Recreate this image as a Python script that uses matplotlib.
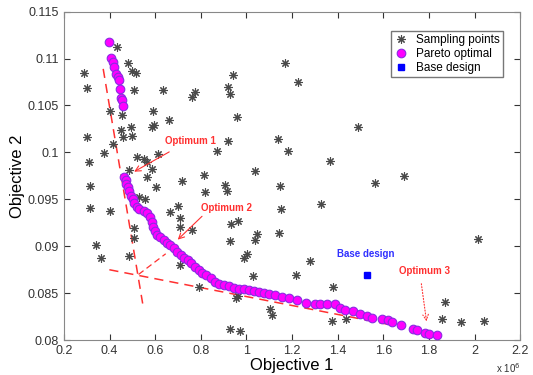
import matplotlib
matplotlib.use('Agg')
import matplotlib.pyplot as plt

# sampling points (objective 1 in 1e6, objective 2)
samp_x = [0.431, 0.480, 0.290, 0.500, 0.516, 0.302, 0.509, 0.636, 0.775, 0.761,
          0.921, 0.930, 0.943, 0.960, 0.402, 0.456, 0.589, 0.662, 0.593, 0.587,
          0.450, 0.493, 0.460, 0.500, 0.303, 0.374, 0.414, 0.311, 0.520, 0.550,
          0.563, 0.611, 0.588, 0.484, 0.563, 0.718, 0.814, 0.869, 0.918, 0.906,
          1.038, 0.315, 1.171, 1.224, 1.488, 1.140, 1.184, 1.367, 1.147, 1.564,
          1.691, 0.604, 0.315, 0.400, 0.818, 0.529, 0.555, 0.666, 0.699, 0.709,
          0.708, 0.763, 0.507, 0.509, 0.342, 0.361, 0.485, 0.709, 0.791, 0.915,
          1.152, 1.328, 0.932, 0.963, 0.929, 1.046, 1.039, 1.142, 1.004, 0.991,
          1.277, 1.027, 1.218, 1.378, 0.962, 0.956, 1.104, 1.114, 1.373, 1.438,
          0.926, 0.971, 1.871, 1.859, 1.940, 2.043, 2.014]
samp_y = [0.1112, 0.1095, 0.1085, 0.1087, 0.1085, 0.1069, 0.1067, 0.1066, 0.1064, 0.1059,
          0.1070, 0.1062, 0.1083, 0.1038, 0.1044, 0.1040, 0.1044, 0.1034, 0.1029, 0.1027,
          0.1024, 0.1027, 0.1016, 0.1017, 0.1016, 0.0999, 0.1009, 0.0990, 0.0995, 0.0993,
          0.0990, 0.0998, 0.0982, 0.0981, 0.0974, 0.0970, 0.0976, 0.1001, 0.1012, 0.0965,
          0.0980, 0.0964, 0.1095, 0.1075, 0.1027, 0.1014, 0.1002, 0.0991, 0.0964, 0.0967,
          0.0975, 0.0963, 0.0941, 0.0938, 0.0958, 0.0952, 0.0950, 0.0937, 0.0943, 0.0930,
          0.0921, 0.0917, 0.0919, 0.0909, 0.0901, 0.0887, 0.0890, 0.0880, 0.0857, 0.0959,
          0.0940, 0.0945, 0.0924, 0.0927, 0.0906, 0.0913, 0.0907, 0.0914, 0.0892, 0.0888,
          0.0884, 0.0868, 0.0869, 0.0857, 0.0847, 0.0845, 0.0833, 0.0827, 0.0820, 0.0822,
          0.0812, 0.0810, 0.0841, 0.0822, 0.0819, 0.0820, 0.0908]

# pareto front
par_x = [0.399, 0.406, 0.415, 0.421, 0.429, 0.438, 0.441, 0.444, 0.449, 0.453, 0.460,
         0.465, 0.470, 0.474, 0.481, 0.487, 0.496, 0.503, 0.509, 0.518, 0.531, 0.549,
         0.566, 0.577, 0.584, 0.590, 0.597, 0.608, 0.623, 0.639, 0.652, 0.667, 0.682,
         0.696, 0.711, 0.726, 0.742, 0.757, 0.775, 0.790, 0.805, 0.823, 0.843, 0.860,
         0.880, 0.902, 0.924, 0.946, 0.968, 0.989, 1.011, 1.033, 1.055, 1.077, 1.099,
         1.125, 1.155, 1.187, 1.221, 1.260, 1.301, 1.323, 1.352, 1.389, 1.411, 1.433,
         1.465, 1.498, 1.528, 1.552, 1.593, 1.622, 1.640, 1.678, 1.732, 1.747, 1.783,
         1.801, 1.835]
par_y = [0.1118, 0.1101, 0.1096, 0.1091, 0.1084, 0.1080, 0.1077, 0.1068, 0.1058, 0.1056, 0.1049,
         0.0974, 0.0971, 0.0966, 0.0963, 0.0959, 0.0954, 0.0950, 0.0946, 0.0942, 0.0940, 0.0938,
         0.0935, 0.0931, 0.0926, 0.0920, 0.0916, 0.0912, 0.0910, 0.0907, 0.0904, 0.0901, 0.0898,
         0.0894, 0.0891, 0.0888, 0.0885, 0.0882, 0.0878, 0.0875, 0.0871, 0.0869, 0.0866, 0.0862,
         0.0860, 0.0859, 0.0858, 0.0856, 0.0855, 0.0854, 0.0853, 0.0852, 0.0851, 0.0850, 0.0849,
         0.0848, 0.0846, 0.0845, 0.0843, 0.0840, 0.0839, 0.0839, 0.0838, 0.0838, 0.0834, 0.0832,
         0.0831, 0.0828, 0.0826, 0.0824, 0.0822, 0.0821, 0.0819, 0.0816, 0.0812, 0.0811, 0.0808,
         0.0806, 0.0805]

base_x = [1.530]
base_y = [0.0869]

# dashed guide lines
line1_x = [0.372, 0.545]
line1_y = [0.1089, 0.0839]
line2_x = [0.399, 1.639]
line2_y = [0.0875, 0.0816]

xticks = [0.2, 0.4, 0.6, 0.8, 1, 1.2, 1.4, 1.6, 1.8, 2, 2.2]
yticks = [0.08, 0.085, 0.09, 0.095, 0.1, 0.105, 0.11, 0.115]
ytick_labels = ['0.08', '0.085', '0.09', '0.095', '0.1', '0.105', '0.11', '0.115']

plt.rcParams['font.family'] = ['Liberation Sans', 'DejaVu Sans']
red = '#ff3030'

fig = plt.figure(figsize=(5.33, 3.75), dpi=100)
ax = fig.add_axes([0.120, 0.093, 0.856, 0.876])

ax.plot(line1_x, line1_y, ls=(0, (6, 4)), color=red, lw=1.1, zorder=2)
ax.plot(line2_x, line2_y, ls=(0, (6, 4)), color=red, lw=1.1, zorder=2)

# matlab style '*' = plus and cross together
ax.plot(samp_x, samp_y, ls='none', marker=(8, 2, 0), ms=6, color='#4a4a4a',
        mew=0.8, label='Sampling points', zorder=3)
ax.plot(par_x, par_y, ls='none', marker='o', ms=6.2, mfc='#ff00ff',
        mec='#8a2be2', mew=0.8, label='Pareto optimal', zorder=4)
ax.plot(base_x, base_y, ls='none', marker='s', ms=5, color='#0000ff',
        label='Base design', zorder=5)

# annotations
tk = dict(color=red, fontsize=7, fontweight='bold', ha='center', va='center')
ax.text(0.753, 0.1012, 'Optimum 1', **tk)
ax.annotate('', xy=(0.497, 0.0978), xytext=(0.672, 0.1002),
            arrowprops=dict(arrowstyle='->', color=red, lw=0.8))
ax.text(0.914, 0.0941, 'Optimum 2', **tk)
ax.annotate('', xy=(0.690, 0.0905), xytext=(0.814, 0.0934),
            arrowprops=dict(arrowstyle='->', color=red, lw=0.8))
ax.plot([0.527, 0.646], [0.0870, 0.0892], ls=(0, (5, 3)), color=red, lw=0.9)
ax.text(1.780, 0.0874, 'Optimum 3', **tk)
ax.annotate('', xy=(1.791, 0.0817), xytext=(1.765, 0.0863),
            arrowprops=dict(arrowstyle='->', color=red, lw=0.8, ls=':'))
ax.text(1.523, 0.0892, 'Base design', color='#3030ff', fontsize=7,
        fontweight='bold', ha='center', va='center')

ax.set_xlim(0.2, 2.2)
ax.set_ylim(0.08, 0.115)
ax.set_xticks(xticks)
ax.set_xticklabels([str(t) for t in xticks])
ax.set_yticks(yticks)
ax.set_yticklabels(ytick_labels)
ax.tick_params(direction='in', top=True, right=True, labelsize=9,
               colors='#333333', length=4)
for s in ax.spines.values():
    s.set_color('#888888')

ax.set_xlabel('Objective 1', fontsize=12, labelpad=1)
ax.set_ylabel('Objective 2', fontsize=12, labelpad=2)
ax.text(1.0, -0.085, r'x 10$^6$', transform=ax.transAxes, fontsize=7,
        ha='right', va='center', color='#333333')

leg = ax.legend(loc='upper right', fontsize=8.5, frameon=True, fancybox=False,
                edgecolor='#555555', handlelength=1.2, handletextpad=0.6,
                borderpad=0.3, labelspacing=0.15, bbox_to_anchor=(0.975, 0.96))

fig.savefig('out.png', dpi=100)
